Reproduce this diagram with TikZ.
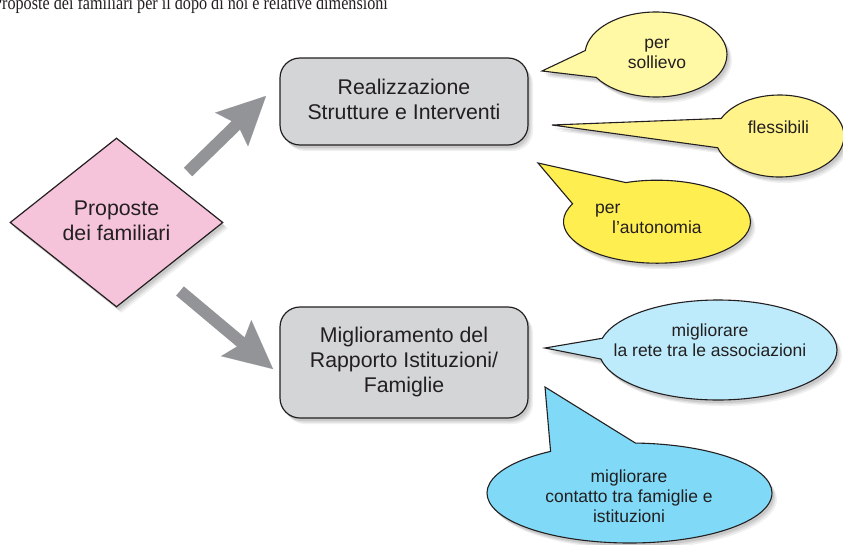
\documentclass[tikz,border=0pt]{standalone}
\usepackage{fontspec}
\setmainfont{Liberation Sans}
\newfontfamily\serifface{Liberation Serif}
\usetikzlibrary{shapes.geometric,shapes.callouts,shadows,arrows.meta}
\definecolor{ink}{HTML}{231F20}
\definecolor{pinkfill}{HTML}{F5C4DA}
\definecolor{boxfill}{HTML}{D4D5D7}
\definecolor{arrowgray}{HTML}{929497}
\definecolor{yelA}{HTML}{FFF9A6}
\definecolor{yelB}{HTML}{FFF38A}
\definecolor{yelC}{HTML}{FFEE4F}
\definecolor{cyanA}{HTML}{BDEBFB}
\definecolor{cyanB}{HTML}{80DAF7}
\begin{document}
\begin{tikzpicture}[x=1pt,y=-1pt,
  softshadow/.style={
    drop shadow={shadow xshift=5pt,shadow yshift=-6pt,fill=black,opacity=0.06},
    drop shadow={shadow xshift=3.5pt,shadow yshift=-4.5pt,fill=black,opacity=0.08},
    drop shadow={shadow xshift=2pt,shadow yshift=-3pt,fill=black,opacity=0.09}},
  mainbox/.style={rectangle, rounded corners=20pt, draw=ink, line width=1.2pt,
    fill=boxfill, minimum width=248pt, minimum height=87pt, inner sep=0pt,
    align=center, text=ink, font=\fontsize{21.3}{25}\selectfont, softshadow},
  propdiamond/.style={diamond, draw=ink, line width=1.2pt, fill=pinkfill,
    minimum width=213pt, minimum height=169pt, inner sep=0pt, align=center,
    text=ink, font=\fontsize{21.3}{25}\selectfont, softshadow},
  bigarrow/.style={draw=arrowgray, line width=12pt,
    -{Stealth[length=48pt,width=47pt,inset=8pt,line width=0.01pt]}},
  bubble/.style={ellipse callout, draw=ink, line width=1.1pt, inner sep=0pt, softshadow},
  btext/.style={align=center, text=ink, inner sep=0pt, font=\fontsize{17.5}{20}\selectfont}
]
\useasboundingbox (0,0) rectangle (843,544);
\fill[white] (0,0) rectangle (843,544);

% title line (cut at the top)
\node[anchor=base west, inner sep=0pt, text=ink,
  font=\serifface\fontsize{19}{22}\selectfont] (title) at (-7,9)
  {\scalebox{0.85}[1]{Proposte dei familiari per il dopo di noi e relative dimensioni}};

% main shapes
\node[propdiamond] (prop) at (116.5,222.5) {\strut Proposte\\\strut dei familiari};
\node[mainbox] (real) at (404,101.5) {\strut Realizzazione\\\strut Strutture e Interventi};
\node[mainbox, minimum height=111pt] (migl) at (404,362.5)
  {\strut Miglioramento del\\\strut Rapporto Istituzioni/\\\strut Famiglie};

% arrows
\coordinate (a1s) at (188,172);
\coordinate (a1e) at (266,96);
\coordinate (a2s) at (180,291);
\coordinate (a2e) at (273,369);
\draw[bigarrow] (a1s) -- (a1e);
\draw[bigarrow] (a2s) -- (a2e);

% pointer tips
\coordinate (p1) at (542,71);
\coordinate (p2) at (552,125);
\coordinate (p3) at (538,163);
\coordinate (p4) at (545,348);
\coordinate (p5) at (545,387);

% bubbles
\node[bubble, fill=yelA, minimum width=142pt, minimum height=85pt,
  callout absolute pointer=(p1), callout pointer arc=38] (b1) at (656,54.5) {};
\node[btext] (b1t) at (657,54.5) {\strut per\\\strut sollievo};

\node[bubble, fill=yelB, minimum width=129pt, minimum height=82pt,
  callout absolute pointer=(p2), callout pointer arc=42] (b2) at (779.5,136) {};
\node[btext] (b2t) at (778.5,129) {\strut flessibili};

\node[bubble, fill=yelC, minimum width=187pt, minimum height=83pt,
  callout absolute pointer=(p3), callout pointer arc=45] (b3) at (657,221.7) {};
\node[btext, align=left, anchor=west] (b3t) at (595,219) {\strut per\\\hspace*{17pt}\strut l’autonomia};

\node[bubble, fill=cyanA, minimum width=238pt, minimum height=100pt,
  callout absolute pointer=(p4), callout pointer arc=24] (b4) at (718,350) {};
\node[btext] (b4t) at (710,342) {\strut migliorare\\\strut la rete tra le associazioni};

\node[bubble, fill=cyanB, minimum width=285pt, minimum height=100pt,
  callout absolute pointer=(p5), callout pointer arc=36] (b5) at (629.5,493) {};
\node[btext] (b5t) at (629,498) {\strut migliorare\\\strut contatto tra famiglie e\\\strut istituzioni};
\end{tikzpicture}
\end{document}
